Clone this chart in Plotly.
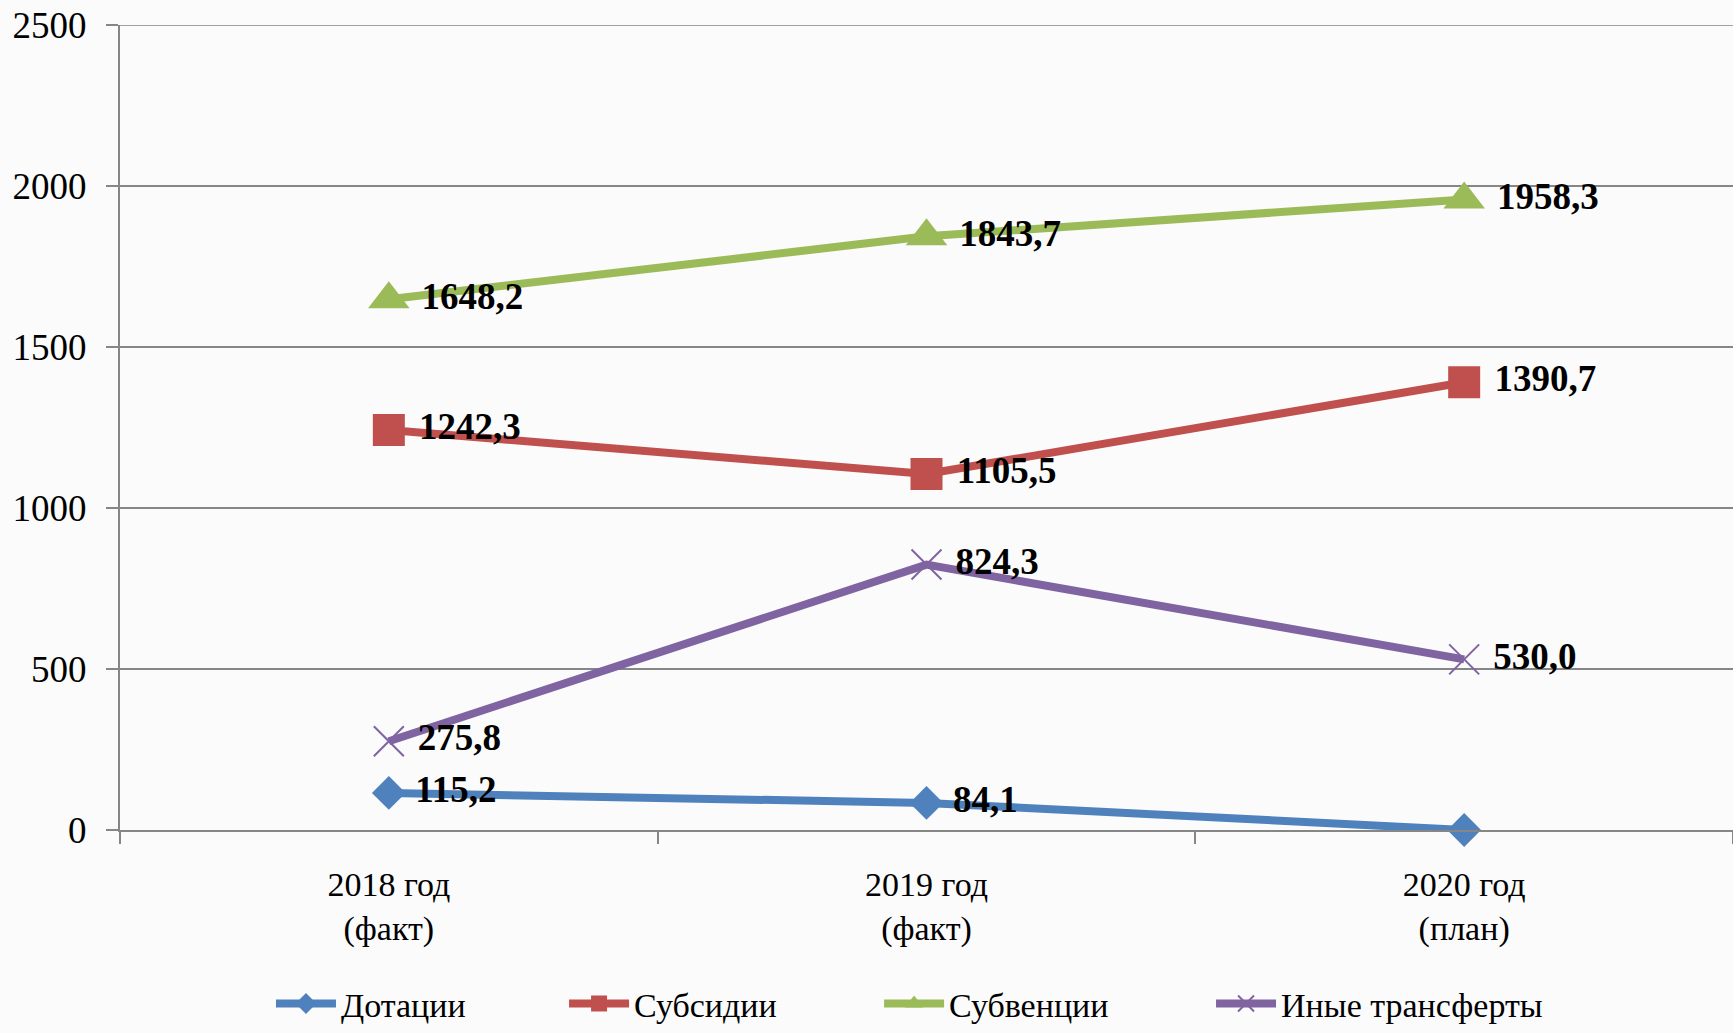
import plotly.graph_objects as go

categories = ["2018 год<br>(факт)", "2019 год<br>(факт)", "2020 год<br>(план)"]
dotatsii = [115.2, 84.1, 0.0]
subsidii = [1242.3, 1105.5, 1390.7]
subventsii = [1648.2, 1843.7, 1958.3]
inye = [275.8, 824.3, 530.0]
dotatsii_labels = ["115,2", "84,1", ""]
y_ticks = [0, 500, 1000, 1500, 2000, 2500]
y_max = 2500

SERIF = "Liberation Serif, Times New Roman, serif"


def fmt(vals):
    return [f"{v:.1f}".replace(".", ",") for v in vals]


series = [
    ("Дотации", dotatsii, dotatsii_labels, "#4F81BD", dict(symbol="diamond", size=26), "legend", 0.0936),
    ("Субсидии", subsidii, fmt(subsidii), "#C0504D", dict(symbol="square", size=32), "legend2", 0.2753),
    ("Субвенции", subventsii, fmt(subventsii), "#9BBB59", dict(symbol="triangle-up", size=36), "legend3", 0.4706),
    ("Иные трансферты", inye, fmt(inye), "#8064A2",
     dict(symbol="x-thin", size=30, line=dict(width=2, color="#8064A2")), "legend4", 0.6764),
]

fig = go.Figure()
legend_layout = {}
for name, vals, labels, color, marker, leg, lx in series:
    m = dict(color=color, **marker)
    fig.add_trace(go.Scatter(
        x=categories, y=vals, name=name, mode="lines+markers+text",
        text=["\u00a0" + t if t else "" for t in labels], textposition="middle right",
        textfont=dict(family=SERIF, size=37, color="black", weight="bold"),
        line=dict(color=color, width=8), marker=m, cliponaxis=False,
        legend=leg, showlegend=True,
    ))
    legend_layout[leg] = dict(orientation="h", x=lx, xanchor="left", y=-0.216, yanchor="middle",
                              font=dict(family=SERIF, size=34), itemwidth=60,
                              bgcolor="rgba(0,0,0,0)")

fig.update_layout(
    width=1733, height=1033,
    margin=dict(l=120, r=0, t=25, b=188),
    paper_bgcolor="#fbfbfb", plot_bgcolor="rgba(0,0,0,0)",
    font=dict(family=SERIF, size=34, color="black"),
    **legend_layout,
)
# top gridline (Plotly drops the grid line lying on the plot edge)
fig.add_shape(type="line", xref="paper", yref="y", x0=0, x1=1, y0=y_max, y1=y_max,
              line=dict(color="#868686", width=1.5), layer="below")
fig.update_xaxes(
    range=[-0.5, 2.5], showline=True, linecolor="#868686", linewidth=2,
    ticks="outside", tickson="boundaries", ticklen=12, tickcolor="#868686", tickwidth=2,
    showgrid=False, tickfont=dict(family=SERIF, size=34), zeroline=False,
    automargin=False, ticklabelstandoff=23,
)
fig.update_yaxes(
    range=[0, y_max], tickvals=y_ticks, showline=True, linecolor="#868686", linewidth=2,
    ticks="outside", ticklen=12, tickcolor="#868686", tickwidth=2,
    showgrid=True, gridcolor="#868686", gridwidth=1.5, zeroline=False,
    tickfont=dict(family=SERIF, size=37), ticklabelstandoff=12, automargin=False,
)

css_js = (
    "var s=document.createElement('style');"
    "s.textContent='html,body{margin:0;padding:0;overflow:hidden;height:1033px;}';"
    "document.head.appendChild(s);"
)
fig.write_html("out.html", config={"displayModeBar": False}, post_script=css_js)
